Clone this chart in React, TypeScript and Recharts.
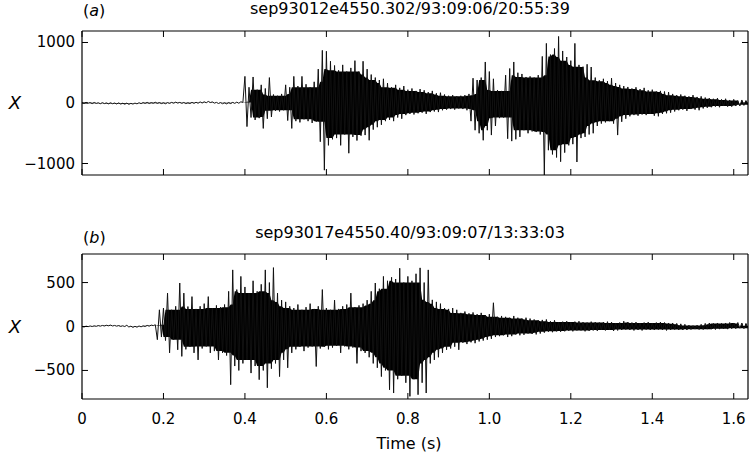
import { Area, ComposedChart, Line, XAxis, YAxis } from 'recharts'

// sampling interval of the traces (s)
const SAMPLE_DT = 0.005

const TIME_TICKS = [0, 0.2, 0.4, 0.6, 0.8, 1.0, 1.2, 1.4, 1.6]
const TICKS_A = [-1000, 0, 1000]
const TICKS_B = [-500, 0, 500]

const TITLE_A = 'sep93012e4550.302/93:09:06/20:55:39'
const TITLE_B = 'sep93017e4550.40/93:09:07/13:33:03'

// trace (a), one value per SAMPLE_DT
const waveA = [
  5, -8, 10, -4, 6, -10, 8, -6, 4, -12,
  6, -10, 2, -14, 4, -12, 0, -16, 2, -18,
  -4, -20, -2, -22, -6, -18, -2, -14, 4, -10,
  8, -6, 10, -8, 6, -4, 12, -6, 8, -10,
  4, -12, 6, -8, 10, -4, 14, -2, 10, -6,
  8, -10, 4, -8, 10, -6, 12, -4, 18, 0,
  20, 4, 26, 8, 18, -2, 10, -8, 6, -12,
  4, -14, 8, -10, 10, -6, 14, -4, 20, 10,
  440, -390, 260, -240, 430, -280, 220, -250, 300, -420,
  240, -260, 420, -230, 140, -130, 120, -140, 150, -120,
  300, -290, 260, -420, 440, -300, 280, -320, 440, -270,
  310, -300, 260, -330, 350, -310, 560, -640, 870, -1110,
  855, -700, 690, -600, 620, -580, 540, -700, 630, -520,
  520, -830, 580, -560, 700, -620, 520, -540, 690, -530,
  560, -616, 470, -440, 420, -400, 380, -360, 400, -300,
  330, -280, 260, -300, 300, -240, 250, -260, 280, -200,
  220, -180, 240, -190, 200, -170, 230, -160, 210, -180,
  180, -150, 200, -140, 160, -150, 170, -120, 140, -110,
  120, -100, 130, -110, 110, -90, 120, -100, 130, -120,
  150, -300, 410, -450, 380, -500, 420, -616, 678, -450,
  520, -530, 400, -380, 215, -250, 200, -240, 460, -590,
  570, -630, 678, -600, 500, -560, 480, -450, 430, -500,
  440, -470, 420, -480, 460, -520, 770, -1190, 985, -780,
  800, -850, 900, -900, 1100, -970, 860, -820, 760, -700,
  700, -680, 985, -975, 630, -580, 600, -560, 640, -520,
  595, -500, 420, -380, 375, -340, 400, -320, 360, -300,
  410, -340, 330, -530, 300, -310, 280, -260, 265, -220,
  240, -200, 260, -210, 230, -190, 250, -200, 210, -180,
  220, -210, 190, -220, 200, -180, 190, -170, 180, -160,
  150, -140, 130, -120, 140, -110, 120, -130, 110, -100,
  130, -110, 100, -120, 110, -90, 90, -80, 80, -70,
  70, -60, 80, -70, 60, -50, 70, -60, 50, -60,
  60, -50, 40, -50, 50, -40, 40, -30,
]

// trace (b)
const waveB = [
  0, -6, 4, -2, 6, 0, 8, 2, 10, 4,
  12, 6, 14, 8, 16, 6, 12, 4, 10, 2,
  8, 0, 14, -6, 4, -10, 2, -8, 6, -4,
  8, 0, 12, 4, 16, 10, 20, -150, 190, -120,
  210, -160, 380, -300, 190, -150, 230, -265, 495, -340,
  380, -260, 227, -230, 340, -300, 200, -380, 230, -250,
  260, -227, 340, -300, 210, -280, 240, -380, 220, -300,
  250, -330, 400, -662, 644, -450, 420, -500, 570, -420,
  450, -380, 380, -530, 520, -450, 400, -605, 480, -500,
  644, -697, 500, -480, 670, -420, 380, -570, 300, -380,
  280, -470, 230, -300, 210, -260, 250, -230, 190, -280,
  220, -240, 260, -227, 200, -455, 230, -250, 420, -230,
  210, -260, 190, -240, 300, -220, 200, -300, 230, -227,
  250, -260, 380, -240, 220, -420, 240, -280, 260, -300,
  300, -350, 400, -420, 495, -470, 430, -570, 570, -500,
  520, -720, 560, -757, 540, -600, 663, -560, 500, -640,
  570, -795, 520, -600, 600, -776, 667, -640, 500, -757,
  644, -420, 303, -380, 280, -350, 260, -300, 210, -265,
  200, -250, 210, -230, 190, -265, 155, -185, 170, -200,
  150, -180, 160, -190, 140, -170, 155, -160, 130, -150,
  140, -140, 270, -120, 110, -110, 120, -100, 110, -120,
  100, -110, 120, -90, 100, -100, 90, -95, 100, -80,
  90, -85, 80, -90, 70, -80, 75, -70, 80, -60,
  60, -65, 70, -55, 50, -60, 55, -55, 60, -50,
  50, -55, 55, -45, 60, -45, 50, -55, 45, -50,
  55, -45, 50, -50, 45, -40, 50, -45, 55, -40,
  50, -50, 40, -45, 45, -40, 60, -35, 50, -40,
  45, -45, 50, -40, 40, -45, 45, -35, 50, -40,
  40, -40, 45, -35, 50, -40, 45, -45, 40, -40,
  40, -35, 35, -40, 30, -40, 25, -40, 15, -35,
  10, -30, 15, -35, 25, -35, 35, -30, 40, -30,
  35, -35, 40, -30, 35, -25, 40, -30, 45, -25,
  40, -25, 45, -20, 40, -25, 35, -20,
]

const FONT = '"DejaVu Sans", sans-serif'
const TICK_LEN = 6

// rows for the chart: the sample itself plus the solid core that the dense
// trace fills (the smallest peaks on either side within a short window)
const toRows = (wave: number[]) =>
  wave.map((v, i) => {
    const win = wave.slice(Math.max(0, i - 4), i + 6).sort((a, b) => a - b)
    const k = Math.min(4, Math.floor((win.length - 1) / 2))
    return {
      t: Math.round(i * SAMPLE_DT * 1000) / 1000,
      v,
      core: [win[k], win[win.length - 1 - k]],
    }
  })

const fmtTime = (v: number) => (v === 0 ? '0' : v.toFixed(1))
const fmtAmp = (v: number) => (v < 0 ? `\u2212${Math.abs(v)}` : `${v}`)

const BottomTick = (props: any) => {
  const { x, y, payload, showLabel } = props
  return (
    <g>
      <line x1={x} y1={y} x2={x} y2={y - TICK_LEN} stroke="#000" />
      {showLabel && (
        <text x={x} y={y + 25} textAnchor="middle" fontFamily={FONT} fontSize={15} fill="#000">
          {fmtTime(payload.value)}
        </text>
      )}
    </g>
  )
}

const TopTick = (props: any) => (
  <line x1={props.x} y1={props.y} x2={props.x} y2={props.y + TICK_LEN} stroke="#000" />
)

const LeftTick = (props: any) => {
  const { x, y, payload } = props
  return (
    <g>
      <line x1={x} y1={y} x2={x + TICK_LEN} y2={y} stroke="#000" />
      <text x={x - 7} y={y + 5} textAnchor="end" fontFamily={FONT} fontSize={15} fill="#000">
        {fmtAmp(payload.value)}
      </text>
    </g>
  )
}

const RightTick = (props: any) => (
  <line x1={props.x} y1={props.y} x2={props.x - TICK_LEN} y2={props.y} stroke="#000" />
)

interface PanelProps {
  wave: number[]
  yDomain: [number, number]
  yTicks: number[]
  height: number
  margin: { top: number; right: number; bottom: number; left: number }
  showTimeLabels: boolean
}

const Panel = ({ wave, yDomain, yTicks, height, margin, showTimeLabels }: PanelProps) => {
  const axisLine = { stroke: '#000', strokeWidth: 1.2 }
  const rows = toRows(wave)
  return (
    <ComposedChart width={750} height={height} data={rows} margin={margin}>
      <XAxis
        xAxisId={0}
        dataKey="t"
        type="number"
        domain={[0, 1.635]}
        allowDataOverflow
        ticks={TIME_TICKS}
        interval={0}
        height={showTimeLabels ? 30 : 1}
        axisLine={axisLine}
        tickLine={false}
        tickSize={0}
        tickMargin={0}
        tick={(p: any) => <BottomTick {...p} showLabel={showTimeLabels} />}
      />
      <XAxis
        xAxisId={1}
        orientation="top"
        dataKey="t"
        type="number"
        domain={[0, 1.635]}
        allowDataOverflow
        ticks={TIME_TICKS}
        interval={0}
        height={1}
        axisLine={axisLine}
        tickLine={false}
        tickSize={0}
        tickMargin={0}
        tick={(p: any) => <TopTick {...p} />}
      />
      <YAxis
        yAxisId={0}
        type="number"
        domain={yDomain}
        allowDataOverflow
        ticks={yTicks}
        interval={0}
        width={60}
        axisLine={axisLine}
        tickLine={false}
        tickSize={0}
        tickMargin={0}
        tick={(p: any) => <LeftTick {...p} />}
      />
      <YAxis
        yAxisId={1}
        orientation="right"
        type="number"
        domain={yDomain}
        allowDataOverflow
        ticks={yTicks}
        interval={0}
        width={1}
        axisLine={axisLine}
        tickLine={false}
        tickSize={0}
        tickMargin={0}
        tick={(p: any) => <RightTick {...p} />}
      />
      <Area
        xAxisId={0}
        yAxisId={0}
        type="linear"
        dataKey="core"
        stroke="none"
        fill="#000"
        fillOpacity={1}
        dot={false}
        activeDot={false}
        isAnimationActive={false}
      />
      <Line
        xAxisId={1}
        yAxisId={1}
        type="linear"
        dataKey="v"
        stroke="#111"
        strokeWidth={1}
        dot={false}
        isAnimationActive={false}
      />
    </ComposedChart>
  )
}

export default function App() {
  return (
    <div style={{ position: 'absolute', left: 0, top: 0, width: 750, height: 459, background: '#fff' }}>
      <div style={{ position: 'absolute', left: 0, top: 0 }}>
        <Panel
          wave={waveA}
          yDomain={[-1190, 1190]}
          yTicks={TICKS_A}
          height={190}
          margin={{ top: 30, right: 1, bottom: 14, left: 22 }}
          showTimeLabels={false}
        />
      </div>
      <div style={{ position: 'absolute', left: 0, top: 220 }}>
        <Panel
          wave={waveB}
          yDomain={[-825, 825]}
          yTicks={TICKS_B}
          height={239}
          margin={{ top: 33, right: 1, bottom: 30, left: 22 }}
          showTimeLabels
        />
      </div>
      <svg
        width={750}
        height={459}
        style={{ position: 'absolute', left: 0, top: 0, pointerEvents: 'none' }}
        fontFamily={FONT}
        fill="#000"
      >
        <text x={83} y={15.5} fontSize={16}>
          (<tspan fontStyle="italic">a</tspan>)
        </text>
        <text x={410} y={13.5} fontSize={16} textAnchor="middle">
          {TITLE_A}
        </text>
        <text x={83} y={243} fontSize={16}>
          (<tspan fontStyle="italic">b</tspan>)
        </text>
        <text x={410} y={237.5} fontSize={16} textAnchor="middle">
          {TITLE_B}
        </text>
        <text x={15} y={109} fontSize={18} fontStyle="italic" textAnchor="middle">
          X
        </text>
        <text x={15} y={333} fontSize={18} fontStyle="italic" textAnchor="middle">
          X
        </text>
        <text x={409} y={449} fontSize={16} textAnchor="middle">
          Time (s)
        </text>
      </svg>
    </div>
  )
}
